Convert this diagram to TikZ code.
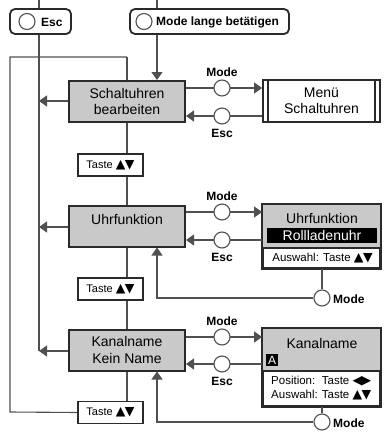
\documentclass[tikz,border=0pt]{standalone}
\usepackage{fontspec}
\setmainfont{Liberation Sans}
\newfontfamily\symf{DejaVu Sans}
\usetikzlibrary{arrows.meta}
\definecolor{ln}{HTML}{505050}
\definecolor{bd}{HTML}{2A2A2A}
\definecolor{gf}{HTML}{C9C9C9}
\newcommand{\ud}{{\symf\fontsize{12.5}{12}\selectfont ▲\kern-0.5pt▼}}
\newcommand{\lr}{{\symf\fontsize{12.5}{12}\selectfont ◀\kern-0.5pt▶}}
\begin{document}
\begin{tikzpicture}[x=1pt,y=-1pt,
  conn/.style={draw=ln, line width=1.1pt},
  arr/.style={conn, -{Triangle[length=8pt,width=11pt]}},
  graybox/.style={draw=bd, line width=2pt, fill=gf, minimum width=116pt, minimum height=41pt, align=center, font=\fontsize{14}{16.5}\selectfont, inner sep=0pt},
  taste/.style={draw=bd, line width=1.6pt, fill=white, minimum width=65pt, minimum height=22pt, inner sep=0pt, font=\fontsize{11}{13}\selectfont},
  btn/.style={circle, draw=ln, line width=1.1pt, fill=white, minimum size=16pt, inner sep=0pt},
  blbl/.style={font=\bfseries\fontsize{12}{14}\selectfont, inner sep=0pt},
  topbox/.style={draw=bd, line width=1.8pt, rounded corners=5pt, fill=white, inner sep=0pt},
  rbox/.style={draw=bd, line width=1.8pt}
]
\useasboundingbox (0,0) rectangle (391,447);

% central vertical spine and outer loop
\coordinate (lt) at (10,57);
\coordinate (ct) at (127,57);
\coordinate (lb) at (10,412);

% top buttons
\node[topbox, minimum width=61pt, minimum height=25pt] (esc) at (40.5,21.5) {};
\node[btn] (escc) at (27,21.5) {};
\node[blbl, anchor=west] (esct) at (41,22) {Esc};
\node[topbox, minimum width=159pt, minimum height=25pt] (mlb) at (209.5,21.5) {};
\node[btn] (mlbc) at (144,21.5) {};
\node[blbl, anchor=west] (mlbt) at (156,22) {Mode lange betätigen};
\coordinate (esctop) at (39,0);
\coordinate (mlbtop) at (157,0);

% gray boxes
\node[graybox] (s1) at (127,101.5) {Schaltuhren\\bearbeiten};
\node[graybox] (s2) at (127,226) {};
\node[font=\fontsize{14}{16}\selectfont, inner sep=0pt] (s2t) at (127,219) {Uhrfunktion};
\node[graybox] (s3) at (127,350) {Kanalname\\Kein Name};

% Taste boxes
\node[taste] (t1) at (110.5,165) {Taste \ud};
\node[taste] (t2) at (110.5,289) {Taste \ud};
\node[taste] (t3) at (110.5,412.5) {Taste \ud};

% spine
\draw[conn] (ct) -- (s1.north -| ct);
\draw[conn] (s1.south -| ct) -- (t1.north -| ct);
\draw[conn] (t1.south -| ct) -- (s2.north -| ct);
\draw[conn] (s2.south -| ct) -- (t2.north -| ct);
\draw[conn] (t2.south -| ct) -- (s3.north -| ct);
\draw[conn] (s3.south -| ct) -- (t3.north -| ct);
\draw[conn] (t3.west) -- (lb) -- (lt) -- (ct);

% top lines
\draw[conn] (esctop) -- (esc.north -| esctop);
\draw[conn] (mlbtop) -- (mlb.north -| mlbtop);
\draw[arr] (mlb.south -| mlbtop) -- (s1.north -| mlbtop);
\coordinate (escbot) at (39,351);
\draw[conn] (esc.south -| esctop) -- (escbot);
\draw[arr] (s1.west |- 0,101) -- (39,101);
\draw[arr] (s2.west |- 0,227) -- (39,227);
\draw[arr] (s3.west |- 0,351) -- (39,351);

% right boxes
% Menu Schaltuhren
\node[rbox, minimum width=117pt, minimum height=42pt, inner sep=0pt, align=center, font=\fontsize{14}{16.5}\selectfont] (r1) at (321.5,101) {Menü\\Schaltuhren};
\draw[bd, line width=1.2pt] (268,80) -- (268,122);
\draw[bd, line width=1.2pt] (375,80) -- (375,122);

% Uhrfunktion right
\node[rbox, fill=white, minimum width=117pt, minimum height=63pt, inner sep=0pt] (r2) at (321.5,236.5) {};
\fill[gf] (r2.north west) rectangle (380,248);
\draw[bd, line width=1.5pt] (263,248) -- (380,248);
\draw[rbox] (r2.north west) rectangle (r2.south east);
\node[font=\fontsize{14}{16}\selectfont, inner sep=0pt] (r2a) at (322,218) {Uhrfunktion};
\node[fill=black, text=white, minimum width=110pt, minimum height=15pt, inner sep=0pt, font=\fontsize{14}{16}\selectfont] (r2b) at (322,235.5) {Rollladenuhr};
\node[font=\fontsize{11.5}{13}\selectfont, inner sep=0pt] (r2c) at (322.5,258) {Auswahl: Taste \ud};

% Kanalname right
\node[rbox, fill=white, minimum width=117pt, minimum height=77pt, inner sep=0pt] (r3) at (321.5,367.5) {};
\fill[gf] (r3.north west) rectangle (380,371);
\draw[bd, line width=1.5pt] (263,371) -- (380,371);
\draw[rbox] (r3.north west) rectangle (r3.south east);
\node[font=\fontsize{14}{16}\selectfont, inner sep=0pt] (r3a) at (322,343) {Kanalname};
\node[fill=black, text=white, minimum width=12pt, minimum height=12pt, inner sep=0pt, font=\fontsize{12}{12}\selectfont] (r3b) at (272,360) {A};
\node[font=\fontsize{11.5}{15}\selectfont, inner sep=0pt, anchor=west] (r3c) at (271,388.5) {\begin{tabular}{@{}l@{\hspace{4pt}}l@{}}Position: & Taste \lr\\[-1pt] Auswahl: & Taste \ud\end{tabular}};

% Mode / Esc connections
\foreach \g/\r/\m/\e in {s1/r1/88/116, s2/r2/212/240, s3/r3/337/364} {
  \draw[arr] (\g.east |- 0,\m) -- (\r.west |- 0,\m);
  \draw[arr] (\r.west |- 0,\e) -- (\g.east |- 0,\e);
}
\foreach \m/\e/\n in {88/116/a, 212/240/b, 337/364/c} {
  \node[btn] (mc\n) at (222,\m) {};
  \node[btn] (ec\n) at (222,\e) {};
  \node[blbl] (ml\n) at (222,\m-16) {Mode};
  \node[blbl] (el\n) at (222,\e+17) {Esc};
}

% bottom Mode loops
\node[btn] (bm1) at (322,298) {};
\node[blbl, anchor=west] (bm1t) at (333,299) {Mode};
\node[btn] (bm2) at (322,422) {};
\node[blbl, anchor=west] (bm2t) at (333,423) {Mode};
\draw[conn] (r2.south -| bm1) -- (bm1.north);
\draw[conn] (r3.south -| bm2) -- (bm2.north);
\draw[arr] (bm1.west) -- (157,298) -- (s2.south -| 157,0);
\draw[arr] (bm2.west) -- (157,422) -- (s3.south -| 157,0);
\end{tikzpicture}
\end{document}
